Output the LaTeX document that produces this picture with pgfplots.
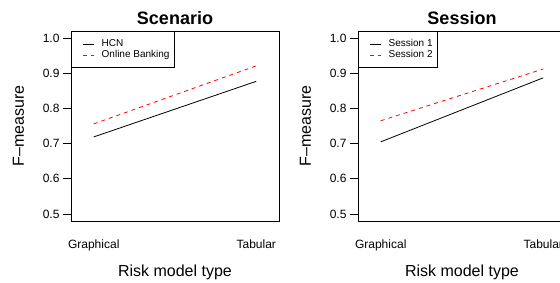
\documentclass[border=0pt]{standalone}
\usepackage{pgfplots}
\pgfplotsset{compat=1.18}
\usepackage{fontspec}
\setmainfont{Liberation Sans}
\pgfplotsset{
  rplot/.style={
    scale only axis, width=208pt, height=190pt,
    xmin=0.86, xmax=2.14, ymin=0.48, ymax=1.02,
    xtick={1,2}, xticklabels={Graphical,Tabular},
    ytick={0.5,0.6,0.7,0.8,0.9,1.0},
    ytick pos=left,
    x tick style={draw=none},
    tick align=outside, major tick length=8pt,
    tick style={line width=0.8pt, black},
    axis line style={line width=0.8pt},
    yticklabel style={/pgf/number format/.cd, fixed, fixed zerofill, precision=1, assume math mode=true},
    tick label style={font=\fontsize{12}{14}\selectfont},
    xticklabel style={anchor=base, yshift=-19pt},
    ylabel style={at={(axis description cs:-0.2524,0.5)}, anchor=center, font=\fontsize{16}{18}\selectfont},
    xlabel style={at={(axis description cs:0.5,-0.2947)}, anchor=base, font=\fontsize{16}{18}\selectfont},
    title style={at={(axis description cs:0.5,1.0052)}, anchor=base, font=\fontsize{18}{20}\selectfont\bfseries},
    xlabel={Risk model type}, ylabel={F--measure},
    legend cell align=left,
    legend image code/.code={\path (-7pt,0pt); \draw[##1] (0pt,0pt) -- (11pt,0pt);},
    legend style={at={(axis description cs:0,1)}, anchor=north west, draw=black, line width=0.8pt,
      font=\fontsize{10}{12}\selectfont, inner xsep=4pt, inner ysep=7pt, row sep=0pt,
      column sep=7pt,
      nodes={inner xsep=0.5pt, inner ysep=1pt, text height=7.5pt, text depth=1.5pt}},
  },
  l1/.style={black, line width=0.8pt},
  l2/.style={red, line width=0.8pt, dash pattern=on 4pt off 4pt},
}
\begin{document}
\begin{tikzpicture}
\useasboundingbox (0,0) rectangle (560pt,282pt);
\begin{axis}[rplot, at={(71pt,61pt)}, anchor=south west, title={Scenario}]
\addplot[l1] coordinates {(1,0.719) (2,0.877)};
\addlegendentry{HCN}
\addplot[l2] coordinates {(1,0.756) (2,0.921)};
\addlegendentry{Online Banking}
\end{axis}
\begin{axis}[rplot, at={(358pt,61pt)}, anchor=south west, title={Session}]
\addplot[l1] coordinates {(1,0.705) (2,0.887)};
\addlegendentry{Session 1}
\addplot[l2] coordinates {(1,0.765) (2,0.912)};
\addlegendentry{Session 2}
\end{axis}
\end{tikzpicture}
\end{document}
